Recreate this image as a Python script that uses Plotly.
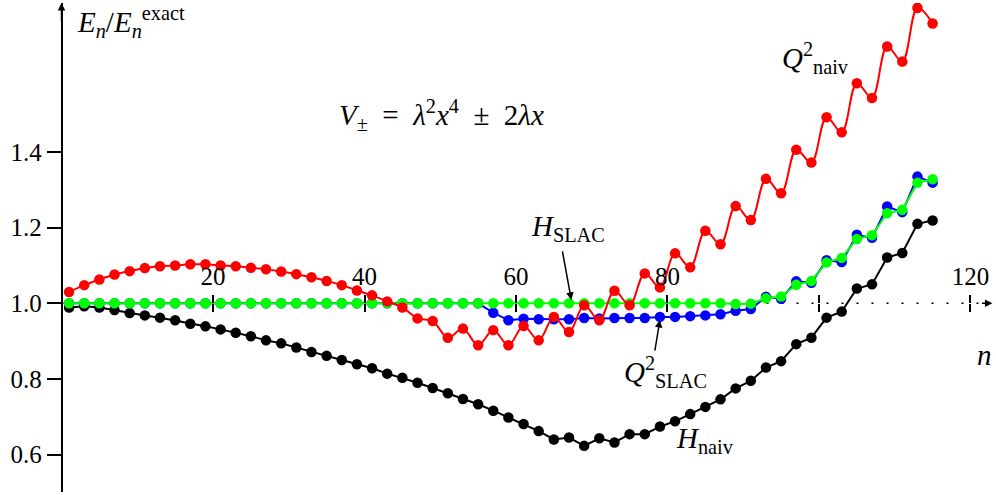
import plotly.graph_objects as go

n_vals = [1, 3, 5, 7, 9, 11, 13, 15, 17, 19, 21, 23, 25, 27, 29, 31, 33, 35, 37, 39,
          41, 43, 45, 47, 49, 51, 53, 55, 57, 59, 61, 63, 65, 67, 69, 71, 73, 75, 77, 79,
          81, 83, 85, 87, 89, 91, 93, 95, 97, 99, 101, 103, 105, 107, 109, 111, 113, 115]

h_naiv = [0.989, 0.992, 0.989, 0.982, 0.974, 0.968, 0.962, 0.955, 0.946, 0.939,
          0.931, 0.922, 0.913, 0.902, 0.894, 0.883, 0.871, 0.861, 0.850, 0.839,
          0.828, 0.814, 0.803, 0.790, 0.776, 0.762, 0.747, 0.733, 0.716, 0.698,
          0.681, 0.662, 0.640, 0.645, 0.623, 0.643, 0.632, 0.654, 0.654, 0.674,
          0.688, 0.707, 0.726, 0.746, 0.775, 0.795, 0.830, 0.847, 0.892, 0.909,
          0.962, 0.978, 1.039, 1.050, 1.121, 1.133, 1.210, 1.219]

q2_naiv = [1.030, 1.048, 1.063, 1.076, 1.085, 1.093, 1.098, 1.100, 1.103, 1.103,
           1.100, 1.098, 1.094, 1.090, 1.084, 1.077, 1.069, 1.059, 1.048, 1.034,
           1.021, 1.005, 0.989, 0.960, 0.953, 0.909, 0.933, 0.889, 0.929, 0.889,
           0.940, 0.902, 0.964, 0.924, 0.995, 0.955, 1.033, 0.995, 1.079, 1.042,
           1.132, 1.095, 1.192, 1.156, 1.257, 1.220, 1.329, 1.291, 1.406, 1.372,
           1.492, 1.452, 1.582, 1.543, 1.679, 1.639, 1.781, 1.740]

q2_slac = [1.000, 1.000, 1.000, 1.000, 1.000, 1.000, 1.000, 1.000, 1.000, 1.000,
           1.000, 1.000, 1.000, 1.000, 1.000, 1.000, 1.000, 1.000, 1.000, 1.000,
           1.000, 1.000, 1.000, 1.000, 1.000, 1.000, 1.000, 1.000, 0.975, 0.955,
           0.959, 0.958, 0.958, 0.958, 0.961, 0.960, 0.961, 0.961, 0.961, 0.964,
           0.964, 0.966, 0.968, 0.971, 0.980, 0.985, 1.017, 1.012, 1.058, 1.054,
           1.114, 1.109, 1.181, 1.173, 1.256, 1.241, 1.335, 1.319]

h_slac = [1.000, 1.000, 1.000, 1.000, 1.000, 1.000, 1.000, 1.000, 1.000, 1.000,
          1.000, 1.000, 1.000, 1.000, 1.000, 1.000, 1.000, 1.000, 1.000, 1.000,
          1.000, 1.000, 1.000, 1.000, 1.000, 1.000, 1.000, 1.000, 1.000, 1.000,
          1.000, 1.000, 1.000, 1.000, 1.000, 1.000, 1.000, 1.000, 1.000, 1.000,
          1.000, 1.000, 1.000, 1.000, 0.998, 0.999, 1.013, 1.018, 1.049, 1.059,
          1.108, 1.120, 1.170, 1.180, 1.238, 1.247, 1.319, 1.328]

x_ticks = [20, 40, 60, 80, 100, 120]
x_ticktext = ["20", "40", "60", "80", "", "120"]
y_ticks = [0.6, 0.8, 1.0, 1.2, 1.4]
y_ticktext = ["0.6", "0.8", "1.0", "1.2", "1.4"]

X_RANGE = [-8.12, 123.37]
Y_RANGE = [0.501, 1.794]
X_POS = (1.0 - Y_RANGE[0]) / (Y_RANGE[1] - Y_RANGE[0])   # x axis sits at y = 1
Y_POS = (0 - X_RANGE[0]) / (X_RANGE[1] - X_RANGE[0])     # y axis sits at n = 0

SERIF = "Liberation Serif"
FS = 25      # tick labels
FS_LBL = 29  # math labels

fig = go.Figure()


def add_series(y, color, shape="linear"):
    fig.add_trace(go.Scatter(
        x=n_vals, y=y, mode="lines+markers",
        line=dict(color=color, width=2, shape=shape, smoothing=1.0),
        marker=dict(color=color, size=10.5),
        showlegend=False, hoverinfo="skip",
    ))


add_series(h_naiv, "#000000")
add_series(q2_slac, "#0000ff")
add_series(h_slac, "#00ff00")
add_series(q2_naiv, "#ff0000", shape="spline")

# dummy trace so the lower tick half gets drawn
fig.add_trace(go.Scatter(x=[None], y=[None], xaxis="x2", showlegend=False,
                         hoverinfo="skip"))

# dotted horizontal axis at 1.0
fig.add_shape(type="line", xref="x", yref="y", x0=0, x1=122, y0=1.0, y1=1.0,
              line=dict(color="black", width=1.6, dash="2px,13px"), layer="below")

_TICKFONT = dict(family=SERIF, size=FS, color="black")

fig.update_layout(
    width=996, height=495,
    margin=dict(l=0, r=0, t=3, b=3, autoexpand=False),
    plot_bgcolor="white", paper_bgcolor="white",
    xaxis=dict(
        range=X_RANGE, anchor="free", position=X_POS, side="top", automargin=False,
        showline=False, showgrid=False, zeroline=False,
        ticks="outside", ticklen=8, tickwidth=1.5, tickcolor="black",
        tickvals=x_ticks, ticktext=x_ticktext, tickfont=_TICKFONT,
    ),
    xaxis2=dict(
        range=X_RANGE, overlaying="x", anchor="free", position=X_POS, side="bottom",
        automargin=False,
        showline=False, showgrid=False, zeroline=False,
        ticks="outside", ticklen=8, tickwidth=1.5, tickcolor="black",
        tickvals=x_ticks, showticklabels=False,
    ),
    yaxis=dict(
        range=Y_RANGE, anchor="free", position=Y_POS, side="left", automargin=False,
        showline=True, linewidth=1.5, linecolor="black",
        showgrid=False, zeroline=False,
        ticks="outside", ticklen=14, tickwidth=1.5, tickcolor="black",
        tickvals=y_ticks, ticktext=y_ticktext, tickfont=_TICKFONT,
    ),
)

_ANN = dict(showarrow=False, font=dict(family=SERIF, size=FS_LBL, color="black"))

labels = [
    (1.8, 1.745, "<i>E</i><sub><i>n</i></sub>/<i>E</i><sub><i>n</i></sub><sup>exact</sup>", "left"),
    (50.2, 1.498, "<i>V</i><sub>±</sub>  =  <i>λ</i><sup>2</sup><i>x</i><sup>4</sup>  ±  2<i>λx</i>", "center"),
    (99.5, 1.649, "<i>Q</i><sup>2</sup><sub>naiv</sub>", "center"),
    (66.9, 1.199, "<i>H</i><sub>SLAC</sub>", "center"),
    (79.7, 0.818, "<i>Q</i><sup>2</sup><sub>SLAC</sub>", "center"),
    (85.0, 0.638, "<i>H</i><sub>naiv</sub>", "center"),
    (121.9, 0.863, "<i>n</i>", "center"),
]
for x, y, txt, xa in labels:
    fig.add_annotation(x=x, y=y, text=txt, xanchor=xa, yanchor="middle", **_ANN)

# pointer arrows
_ARROW = dict(showarrow=True, arrowhead=2, arrowsize=1, arrowwidth=1.5,
              arrowcolor="black", text="", axref="x", ayref="y")
fig.add_annotation(x=67.3, y=1.009, ax=66.1, ay=1.141, **_ARROW)
fig.add_annotation(x=79.0, y=0.956, ax=78.3, ay=0.871, **_ARROW)

# axis arrowheads
fig.add_annotation(x=0, y=Y_RANGE[1], ax=0, ay=20, showarrow=True, arrowhead=2,
                   arrowwidth=1.5, arrowcolor="black", text="")
fig.add_annotation(x=122.9, y=1.0, ax=-12, ay=0, showarrow=True, arrowhead=2,
                   arrowwidth=1.5, arrowcolor="black", text="")

# page body has a default 8px margin; drop it so the figure sits at the corner
fig.write_html("out.html", config={"displayModeBar": False},
               post_script="document.body.style.margin='0';")
